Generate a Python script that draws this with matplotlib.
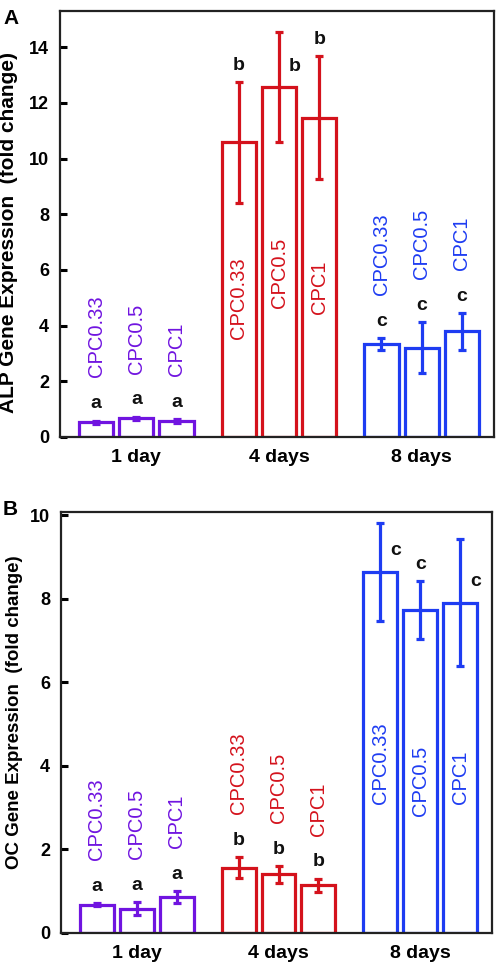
import matplotlib
matplotlib.use("Agg")
import matplotlib.pyplot as plt
import numpy as np

plt.rcParams["font.family"] = ["Liberation Sans", "DejaVu Sans"]

# values
groups = ["1 day", "4 days", "8 days"]
cpc = ["CPC0.33", "CPC0.5", "CPC1"]
group_letters = ["a", "b", "c"]

alp_mean = [[0.53, 0.67, 0.58], [10.59, 12.57, 11.46], [3.33, 3.21, 3.79]]
alp_err = [[0.06, 0.06, 0.06], [2.17, 1.96, 2.21], [0.22, 0.91, 0.67]]

oc_mean = [[0.68, 0.58, 0.86], [1.56, 1.40, 1.14], [8.65, 7.73, 7.91]]
oc_err = [[0.03, 0.16, 0.15], [0.25, 0.20, 0.16], [1.17, 0.69, 1.52]]

colors = ["#7014E0", "#D4121C", "#1E3CF2"]

fig = plt.figure(figsize=(4.96, 9.64), dpi=100)
ax_a = fig.add_axes([0.121, 0.5467, 0.875, 0.4419])
ax_b = fig.add_axes([0.123, 0.0322, 0.869, 0.4367])

group_gap = 3.55
offsets = np.array([-1, 0, 1])


def draw_panel(ax, means, errs, ylabel, ylim, yticks, label_mode, beside, ylabel_size):
    for g in range(len(groups)):
        xs = g * group_gap + offsets
        col = colors[g]
        ax.bar(xs, means[g], width=0.85, facecolor="white", edgecolor=col,
               linewidth=2.3, zorder=2)
        ax.errorbar(xs, means[g], yerr=errs[g], fmt="none", ecolor=col,
                    elinewidth=2.3, capsize=3, capthick=2.3, zorder=3)
        for i in range(3):
            m = means[g][i]
            top = m + errs[g][i]
            if (g, i) in beside:
                ax.annotate(group_letters[g], (xs[i], m), xytext=(11, 15),
                            textcoords="offset points", ha="center", va="center",
                            fontsize=14, fontweight="bold", color="#111111")
            else:
                ax.annotate(group_letters[g], (xs[i], top), xytext=(0, 12),
                            textcoords="offset points", ha="center", va="center",
                            fontsize=14, fontweight="bold", color="#111111")
            if label_mode[g] == "above":
                ax.annotate(cpc[i], (xs[i], top), xytext=(0, 31),
                            textcoords="offset points", ha="center", va="bottom",
                            rotation=90, fontsize=14.5, color=col)
            else:
                ax.text(xs[i], m * 0.47, cpc[i], ha="center", va="center",
                        rotation=90, fontsize=14.5, color=col)

    ax.set_xlim(-1.9, 8.9)
    ax.set_ylim(*ylim)
    ax.set_yticks(yticks)
    ax.set_xticks(np.arange(len(groups)) * group_gap)
    ax.set_xticklabels(groups, fontsize=14, fontweight="bold")
    ax.tick_params(axis="x", length=0, pad=9)
    ax.tick_params(axis="y", direction="in", length=5, width=2.2,
                   labelsize=13, pad=8)
    for lab in ax.get_yticklabels():
        lab.set_fontweight("bold")
    for sp in ax.spines.values():
        sp.set_linewidth(1.6)
        sp.set_color("#222222")
    ax.set_ylabel(ylabel, fontsize=ylabel_size, fontweight="bold")


draw_panel(ax_a, alp_mean, alp_err, "ALP Gene Expression  (fold change)",
           (0, 15.3), [0, 2, 4, 6, 8, 10, 12, 14],
           ["above", "inside", "above"], {(1, 1)}, 15)
ax_a.yaxis.set_label_coords(-0.097, 0.479)

draw_panel(ax_b, oc_mean, oc_err, "OC Gene Expression  (fold change)",
           (0, 10.08), [0, 2, 4, 6, 8, 10],
           ["above", "above", "inside"], {(2, 0), (2, 2)}, 13.5)
ax_b.yaxis.set_label_coords(-0.088, 0.525)

fig.text(0.008, 0.9905, "A", fontsize=15, fontweight="bold", va="top")
fig.text(0.006, 0.4815, "B", fontsize=15, fontweight="bold", va="top")

fig.savefig("out.png", dpi=100)
